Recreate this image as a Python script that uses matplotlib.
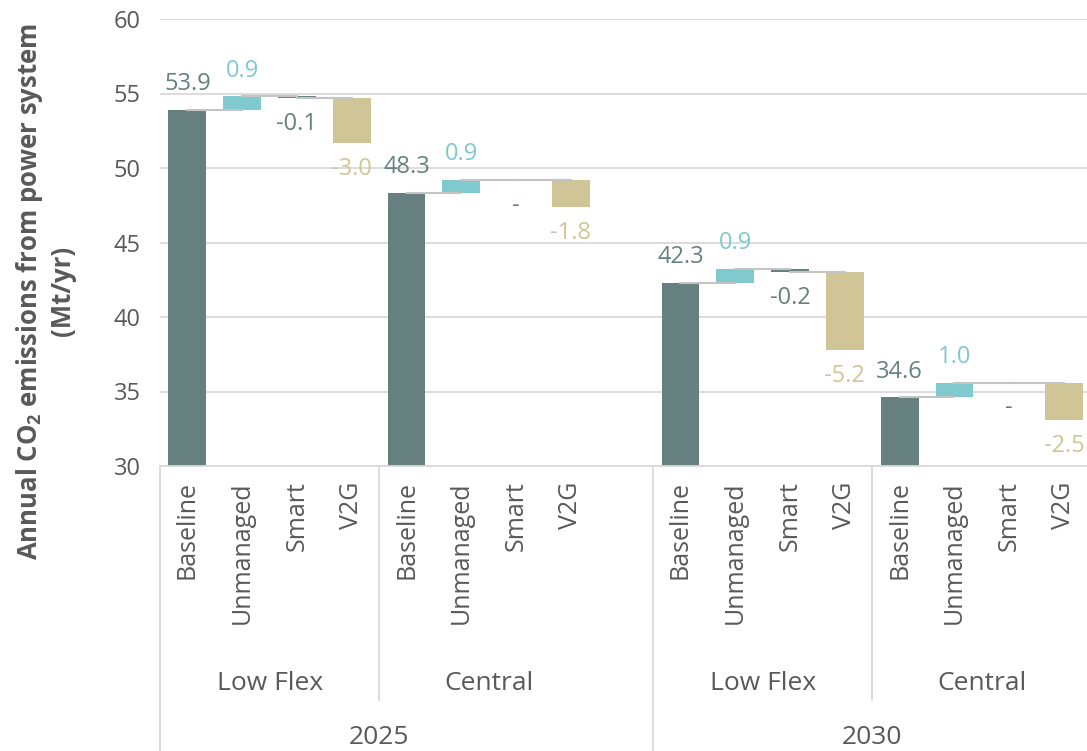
import matplotlib
matplotlib.use("Agg")
import matplotlib.pyplot as plt
import matplotlib.transforms as mtransforms

plt.rcParams['font.family'] = ['Open Sans', 'DejaVu Sans']
plt.rcParams['mathtext.fontset'] = 'custom'
plt.rcParams['mathtext.rm'] = 'Open Sans'
plt.rcParams['mathtext.bf'] = 'Open Sans:bold'

# waterfall data: one block per year/scenario
years = ['2025', '2030']
scenarios = ['Low Flex', 'Central']
steps = ['Baseline', 'Unmanaged', 'Smart', 'V2G']
baseline = [53.9, 48.3, 42.3, 34.6]
unmanaged = [0.9, 0.9, 0.9, 1.0]
smart = [-0.1, 0.0, -0.2, 0.0]
v2g = [-3.0, -1.8, -5.2, -2.5]

c_base = '#668080'
c_unman = '#7fc9cf'
c_v2g = '#d0c596'
c_text = '#595959'
c_grid = '#d9d9d9'

fig = plt.figure(figsize=(10.87, 7.51), dpi=100)
ax = fig.add_axes([160 / 1087, 1 - 466 / 751, 927 / 1087, 447 / 751])

ymin = 30
width = 0.69
# slot positions: 4 bars per block, empty slot between the years
block_start = [0, 4, 9, 13]

xticks, xlabels = [], []
for b in range(4):
    x0 = block_start[b]
    deltas = [unmanaged[b], smart[b], v2g[b]]
    colors = [c_unman, c_base, c_v2g]
    label_cols = [c_unman, c_base, c_v2g]

    # baseline bar
    ax.bar(x0, baseline[b] - ymin, bottom=ymin, width=width, color=c_base, zorder=2)
    ax.annotate(f'{baseline[b]:.1f}', (x0, baseline[b]), xytext=(0, 10),
                textcoords='offset points', ha='center', va='bottom',
                color=c_base, fontsize=17)

    level = baseline[b]
    for i, d in enumerate(deltas):
        x = x0 + 1 + i
        # connector from previous bar to this one
        ax.plot([x - 1, x], [level, level], color='#c4c4c4', lw=1.5, zorder=3)
        new = level + d
        lo, hi = min(level, new), max(level, new)
        if d != 0:
            ax.bar(x, hi - lo, bottom=lo, width=width, color=colors[i], zorder=2)
        txt = f'{d:.1f}' if d != 0 else '-'
        if d > 0:
            ax.annotate(txt, (x, hi), xytext=(0, 10), textcoords='offset points',
                        ha='center', va='bottom', color=label_cols[i], fontsize=17)
        else:
            ax.annotate(txt, (x, lo), xytext=(0, -10), textcoords='offset points',
                        ha='center', va='top', color=label_cols[i], fontsize=17)
        level = new

    for i, s in enumerate(steps):
        xticks.append(x0 + i)
        xlabels.append(s)

ax.set_ylim(ymin, 60)
ax.set_xlim(-0.5, 16.42)
ax.set_yticks(range(30, 61, 5))
ax.yaxis.grid(True, color=c_grid, lw=1.3, zorder=0)
ax.set_axisbelow(True)
ax.tick_params(axis='y', length=0, labelsize=17, labelcolor=c_text, pad=14)
ax.set_xticks(xticks)
ax.set_xticklabels(xlabels, rotation=90, fontsize=18, color=c_text)
ax.tick_params(axis='x', length=0, pad=11)
for sp in ['top', 'right', 'left']:
    ax.spines[sp].set_visible(False)
ax.spines['bottom'].set_color(c_grid)
ax.spines['bottom'].set_linewidth(1.3)
ax.spines['bottom'].set_zorder(4)

# multi-level category axis below the plot
trans = mtransforms.blended_transform_factory(ax.transData, fig.transFigure)
y_top = 1 - 466 / 751
for xs, yb in [(-0.5, 0.0), (8.5, 0.0), (3.5, 1 - 700 / 751), (12.5, 1 - 700 / 751)]:
    ax.plot([xs, xs], [y_top, yb], transform=trans, color=c_grid, lw=1.3, clip_on=False)

for xc, name in zip([1.5, 5.5, 10.5, 14.5], scenarios * 2):
    fig.text(xc, 1 - 684 / 751, name, transform=trans, ha='center', va='center',
             fontsize=19, color=c_text)
for xc, yr in zip([3.5, 12.5], years):
    fig.text(xc, 1 - 737 / 751, yr, transform=trans, ha='center', va='center',
             fontsize=19, color=c_text)

fig.text(45 / 1087, 1 - 291 / 751,
         'Annual CO$_\\mathbf{2}$ emissions from power system\n(Mt/yr)',
         rotation=90, ha='center', va='center', multialignment='center',
         fontsize=18.5, fontweight='bold', color=c_text)

fig.savefig('out.png', dpi=100)
